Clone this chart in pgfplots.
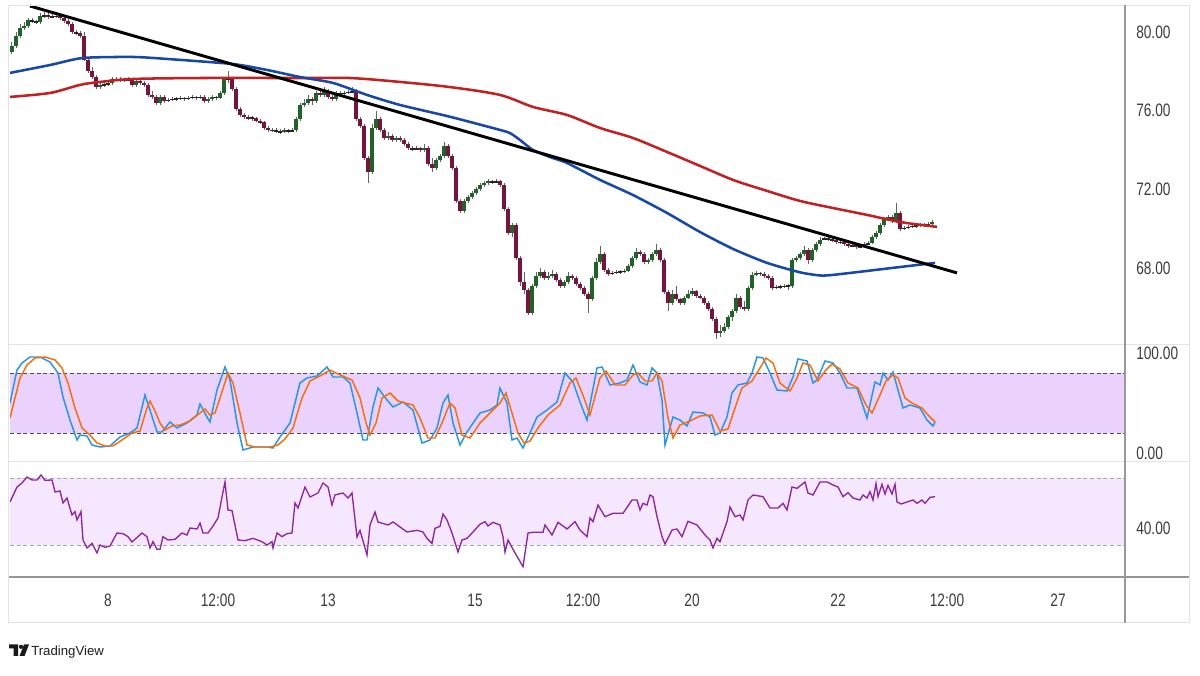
\documentclass[border=0pt]{standalone}
\usepackage{pgfplots}
\pgfplotsset{compat=1.18}
\usepackage{pgfplotstable}
\usepackage{fontspec}
\setmainfont{Liberation Sans}[FakeStretch=0.76]
\newfontfamily\tvfont{Liberation Sans}

\definecolor{upc}{RGB}{30,100,38}
\definecolor{dnc}{RGB}{122,18,62}
\definecolor{wickc}{RGB}{100,100,100}
\definecolor{redma}{RGB}{196,32,34}
\definecolor{bluema}{RGB}{22,72,170}
\definecolor{kcol}{RGB}{33,150,243}
\definecolor{dcol}{RGB}{255,109,0}
\definecolor{rsicol}{RGB}{142,36,170}
\definecolor{stband}{RGB}{234,210,252}
\definecolor{rsiband}{RGB}{245,231,253}
\definecolor{lightsep}{RGB}{224,227,235}
\definecolor{darksep}{RGB}{150,150,150}
\definecolor{labelgray}{RGB}{60,60,60}

\pgfplotstableread{
x o h l c
12 79.0 79.5 78.9 79.3
16 79.3 80.0 79.2 79.8
20 79.8 80.4 79.7 80.2
24 80.2 80.5 80.1 80.3
28 80.3 80.7 80.2 80.6
32 80.6 80.7 80.45 80.55
36 80.55 80.6 80.4 80.5
40 80.5 80.95 80.4 80.8
44 80.8 81.0 80.7 80.85
48 80.85 80.95 80.65 80.75
52 80.75 80.9 80.7 80.8
56 80.8 80.9 80.7 80.8
60 80.8 80.85 80.6 80.7
64 80.7 80.8 80.45 80.55
68 80.55 80.65 80.3 80.4
72 80.4 80.5 79.9 80.0
76 80.0 80.1 79.85 79.95
80 79.95 80.05 79.7 79.8
84 79.8 80.0 78.5 78.6
88 78.6 78.7 77.9 78.0
92 78.0 78.2 77.6 77.7
96 77.7 77.8 77.1 77.2
100 77.2 77.45 77.1 77.3
104 77.3 77.45 77.2 77.35
108 77.35 77.5 77.25 77.4
112 77.4 77.7 77.3 77.6
116 77.6 77.7 77.5 77.6
120 77.6 77.7 77.45 77.55
124 77.55 77.65 77.45 77.55
128 77.55 77.7 77.5 77.6
132 77.6 77.65 77.2 77.3
136 77.3 77.6 77.2 77.5
140 77.5 77.6 77.3 77.4
144 77.4 77.5 77.2 77.3
148 77.3 77.4 76.7 76.8
152 76.8 77.0 76.6 76.7
156 76.7 76.8 76.3 76.4
160 76.4 76.8 76.3 76.7
164 76.7 76.8 76.4 76.5
168 76.5 76.65 76.45 76.55
172 76.55 76.7 76.5 76.6
176 76.6 76.7 76.5 76.6
180 76.6 76.75 76.55 76.65
184 76.65 76.7 76.5 76.6
188 76.6 76.75 76.55 76.65
192 76.65 76.8 76.6 76.7
196 76.7 76.75 76.55 76.65
200 76.65 76.8 76.6 76.7
204 76.7 76.8 76.4 76.5
208 76.5 76.7 76.4 76.6
212 76.6 76.8 76.5 76.7
216 76.7 76.75 76.55 76.65
220 76.65 77.0 76.6 76.9
224 76.9 77.7 76.8 77.6
228 77.6 78.0 77.4 77.6
232 77.6 77.7 77.0 77.1
236 77.1 77.2 76.0 76.1
240 76.1 76.2 75.7 75.8
244 75.8 75.9 75.6 75.7
248 75.7 75.8 75.5 75.6
252 75.6 75.75 75.5 75.65
256 75.65 75.7 75.4 75.5
260 75.5 75.6 75.3 75.4
264 75.4 75.5 75.0 75.1
268 75.1 75.2 74.9 75.0
272 75.0 75.1 74.9 75.0
276 75.0 75.1 74.85 74.95
280 74.95 75.05 74.8 74.9
284 74.9 75.1 74.85 75.0
288 75.0 75.05 74.85 74.95
292 74.95 75.1 74.9 75.0
296 75.0 75.7 74.9 75.6
300 75.6 76.4 75.5 76.3
304 76.3 76.6 76.2 76.4
308 76.4 76.8 76.3 76.6
312 76.6 76.7 76.3 76.5
316 76.5 77.0 76.4 76.9
320 76.9 77.0 76.7 76.8
324 76.8 77.2 76.7 77.0
328 77.0 77.1 76.6 76.7
332 76.7 76.8 76.5 76.6
336 76.6 77.0 76.5 76.9
340 76.9 77.0 76.75 76.85
344 76.85 77.0 76.8 76.9
348 76.9 77.05 76.85 76.95
352 76.95 77.2 76.9 77.0
356 77.0 77.1 75.5 75.6
360 75.6 75.7 75.1 75.2
364 75.2 75.3 73.5 73.6
368 73.6 73.7 72.3 72.9
372 72.9 75.3 72.8 75.1
376 75.1 76.0 75.0 75.6
380 75.6 75.7 74.9 75.0
384 75.0 75.1 74.5 74.6
388 74.6 74.9 74.5 74.7
392 74.7 74.8 74.4 74.5
396 74.5 74.7 74.4 74.6
400 74.6 74.7 74.4 74.5
404 74.5 74.6 74.2 74.3
408 74.3 74.4 74.0 74.1
412 74.1 74.2 73.95 74.05
416 74.05 74.2 74.0 74.1
420 74.1 74.15 73.9 74.0
424 74.0 74.3 73.9 74.1
428 74.1 74.2 73.2 73.3
432 73.3 73.6 72.9 73.1
436 73.1 73.6 73.0 73.5
440 73.5 73.8 73.4 73.7
444 73.7 74.4 73.6 74.2
448 74.2 74.3 73.6 73.7
452 73.7 73.8 73.0 73.1
456 73.1 73.2 71.3 71.4
460 71.4 71.5 70.8 70.9
464 70.9 71.5 70.8 71.4
468 71.4 71.7 71.3 71.6
472 71.6 71.9 71.5 71.8
476 71.8 72.1 71.7 72.0
480 72.0 72.3 71.9 72.2
484 72.2 72.4 72.1 72.3
488 72.3 72.5 72.2 72.4
492 72.4 72.5 72.25 72.35
496 72.35 72.5 72.3 72.4
500 72.4 72.5 72.1 72.2
504 72.2 72.3 70.9 71.0
508 71.0 71.1 69.7 69.8
512 69.8 70.3 69.6 70.2
516 70.2 70.3 68.4 68.5
520 68.5 68.6 67.1 67.3
524 67.3 67.8 66.7 66.9
528 66.9 67.0 65.6 65.7
532 65.7 67.2 65.6 67.1
536 67.1 67.8 67.0 67.6
540 67.6 68.0 67.5 67.8
544 67.8 67.9 67.4 67.5
548 67.5 67.8 67.4 67.6
552 67.6 67.9 67.5 67.7
556 67.7 67.8 67.3 67.4
560 67.4 67.5 67.0 67.1
564 67.1 67.4 67.0 67.3
568 67.3 67.8 67.2 67.6
572 67.6 67.7 67.4 67.5
576 67.5 67.6 67.1 67.2
580 67.2 67.3 66.9 67.0
584 67.0 67.1 66.6 66.7
588 66.7 66.8 65.7 66.4
592 66.4 67.6 66.3 67.5
596 67.5 68.5 67.4 68.3
600 68.3 69.1 68.2 68.7
604 68.7 68.8 67.8 67.9
608 67.9 68.0 67.6 67.7
612 67.7 67.85 67.65 67.75
616 67.75 67.9 67.7 67.8
620 67.8 67.9 67.7 67.8
624 67.8 67.95 67.75 67.85
628 67.85 68.2 67.8 68.1
632 68.1 68.6 68.0 68.5
636 68.5 69.0 68.4 68.8
640 68.8 68.9 68.6 68.7
644 68.7 68.8 68.2 68.3
648 68.3 68.5 68.2 68.4
652 68.4 68.8 68.3 68.7
656 68.7 69.2 68.6 68.9
660 68.9 69.0 68.3 68.4
664 68.4 68.5 66.7 66.8
668 66.8 66.9 65.8 66.2
672 66.2 66.9 66.1 66.7
676 66.7 67.1 66.3 66.4
680 66.4 66.5 66.1 66.2
684 66.2 66.6 66.1 66.5
688 66.5 66.9 66.4 66.7
692 66.7 67.0 66.6 66.85
696 66.85 66.9 66.5 66.6
700 66.6 66.7 66.4 66.5
704 66.5 66.6 66.1 66.2
708 66.2 66.3 65.8 65.9
712 65.9 66.0 65.3 65.4
716 65.4 65.5 64.4 64.7
720 64.7 65.1 64.5 64.8
724 64.8 65.2 64.7 65.0
728 65.0 65.6 64.9 65.5
732 65.5 65.9 65.3 65.8
736 65.8 66.7 65.7 66.5
740 66.5 66.6 65.9 66.0
744 66.0 66.3 65.8 65.9
748 65.9 67.1 65.8 67.0
752 67.0 67.8 66.9 67.65
756 67.65 67.85 67.6 67.75
760 67.75 67.8 67.6 67.7
764 67.7 67.8 67.5 67.6
768 67.6 67.7 67.4 67.5
772 67.5 67.6 66.9 67.0
776 67.0 67.15 66.95 67.05
780 67.05 67.15 66.95 67.05
784 67.05 67.2 67.0 67.1
788 67.1 67.2 66.9 67.1
792 67.1 68.5 67.0 68.4
796 68.4 68.6 68.3 68.5
800 68.5 68.8 68.4 68.7
804 68.7 69.1 68.6 68.9
808 68.9 69.0 68.2 68.4
812 68.4 69.0 68.3 68.9
816 68.9 69.3 68.8 69.2
820 69.2 69.6 69.1 69.45
824 69.45 69.6 69.4 69.5
828 69.5 69.6 69.35 69.45
832 69.45 69.55 69.3 69.4
836 69.4 69.5 69.2 69.3
840 69.3 69.4 69.2 69.3
844 69.3 69.35 69.1 69.2
848 69.2 69.3 69.0 69.1
852 69.1 69.25 69.05 69.15
856 69.15 69.2 68.95 69.05
860 69.05 69.2 69.0 69.1
864 69.1 69.3 69.05 69.2
868 69.2 69.35 69.15 69.25
872 69.25 69.7 69.2 69.6
876 69.6 69.9 69.5 69.8
880 69.8 70.3 69.7 70.2
884 70.2 70.6 70.1 70.5
888 70.5 70.7 70.4 70.6
892 70.6 70.7 70.3 70.4
896 70.4 71.3 70.3 70.8
900 70.8 70.9 69.9 70.0
904 70.0 70.15 69.95 70.05
908 70.05 70.2 70.0 70.1
912 70.1 70.25 70.05 70.15
916 70.15 70.25 70.05 70.15
920 70.15 70.3 70.1 70.2
924 70.2 70.3 70.1 70.2
928 70.2 70.35 70.15 70.25
932 70.25 70.45 70.2 70.35
}\candles

\pgfplotsset{
  panel/.style={
    scale only axis, width=836.25pt, xmin=10, xmax=1125,
    anchor=south west,
    axis line style={draw=none}, major tick length=0pt, minor tick num=0,
    xtick=\empty, ytick pos=right, yticklabel pos=right,
    yticklabel style={anchor=west, inner sep=0pt, xshift=8.25pt,
      font=\fontsize{13.5pt}{15pt}\selectfont, text=labelgray,
      /pgf/number format/.cd, fixed, fixed zerofill, precision=2, assume math mode=true},
  },
  candlebar/.style={draw=none, mark=none, forget plot,
    error bars/.cd, y dir=both, y explicit, error mark=none,
    error bar style={line cap=butt, solid, #1}},
}

\begin{document}
\begin{tikzpicture}
\fill[white] (0,0) rectangle (900pt,506.25pt);
\path[use as bounding box] (0,0) rectangle (900pt,506.25pt);

% ---------------- main price pane ----------------
\begin{axis}[panel, at={(7.5pt,247.5pt)}, height=255pt,
  ymin=64.085, ymax=81.373, ytick={68,72,76,80}]
  % wicks
  \addplot[candlebar={line width=0.75pt, draw=wickc}]
    table[x=x, y expr={(\thisrow{h}+\thisrow{l})/2}, y error expr={(\thisrow{h}-\thisrow{l})/2}] {\candles};
  % near-flat candles drawn as dark dashes
  \addplot[restrict expr to domain={abs(\thisrow{c}-\thisrow{o})}{0:0.0799},
    candlebar={line width=2.5pt, draw=black!85}]
    table[x=x, y expr={(\thisrow{o}+\thisrow{c})/2}, y error expr={0.035}] {\candles};
  % up bodies
  \addplot[restrict expr to domain={\thisrow{c}-\thisrow{o}}{0.08:1000},
    candlebar={line width=2.5pt, draw=upc}]
    table[x=x, y expr={(\thisrow{o}+\thisrow{c})/2}, y error expr={abs(\thisrow{c}-\thisrow{o})/2}] {\candles};
  % down bodies
  \addplot[restrict expr to domain={\thisrow{o}-\thisrow{c}}{0.08:1000},
    candlebar={line width=2.5pt, draw=dnc}]
    table[x=x, y expr={(\thisrow{o}+\thisrow{c})/2}, y error expr={abs(\thisrow{c}-\thisrow{o})/2}] {\candles};
  % moving averages
  \addplot[redma, line width=1.9pt, smooth, tension=0.5, mark=none] coordinates {
    (10,76.70)(50,76.90)(80,77.31)(100,77.46)(133,77.61)(200,77.66)(300,77.66)(350,77.66)
    (400,77.46)(450,77.20)(500,76.80)(533,76.19)(567,75.78)(600,75.12)(633,74.61)(667,73.90)
    (700,73.19)(733,72.48)(767,71.92)(800,71.41)(833,71.05)(867,70.70)(900,70.34)(937,70.09)};
  \addplot[bluema, line width=1.9pt, smooth, tension=0.4, mark=none] coordinates {
    (10,77.92)(50,78.32)(83,78.68)(133,78.73)(167,78.63)(233,78.37)(267,78.07)(300,77.71)
    (333,77.41)(367,76.80)(400,76.29)(450,75.69)(500,75.02)(510,74.86)(520,74.51)(533,74.0)
    (550,73.64)(567,73.34)(600,72.48)(633,71.71)(667,70.80)(700,69.83)(733,68.97)(767,68.26)
    (800,67.78)(820,67.62)(833,67.65)(867,67.85)(900,68.05)(935,68.26)};
  % trend line
  \addplot[black, line width=2.2pt, mark=none] coordinates {(30,81.32)(957,67.75)};
\end{axis}

% ---------------- stochastic pane ----------------
\begin{axis}[panel, at={(7.5pt,159.75pt)}, height=87.75pt,
  ymin=-9, ymax=108, ytick={0,100}]
  \addplot[fill=stband, draw=none, forget plot] coordinates {(10,20)(1125,20)(1125,80)(10,80)} -- cycle;
  \addplot[black!70, line width=0.7pt, dash pattern=on 3pt off 2pt, mark=none] coordinates {(10,80)(1125,80)};
  \addplot[black!70, line width=0.7pt, dash pattern=on 3pt off 2pt, mark=none] coordinates {(10,20)(1125,20)};
  \addplot[kcol, line width=1.1pt, mark=none] coordinates {
    (10,50)(17,83)(22,90)(30,96)(40,96)(50,91)(58,80)(63,56)(70,33)(77,13)(80,18)(87,17)(92,8)
    (100,6)(110,7)(120,16)(130,20)(137,25)(145,58)(150,43)(157,21)(162,21)(170,31)(177,25)
    (187,30)(197,38)(200,49)(207,36)(210,31)(217,63)(225,86)(230,73)(237,30)(243,3)(253,6)
    (267,6)(273,5)(280,16)(290,30)(300,70)(307,75)(317,77)(327,86)(333,76)(343,76)(350,70)
    (357,40)(363,13)(367,13)(373,46)(378,65)(387,53)(393,46)(403,51)(413,43)(422,10)(430,13)
    (437,25)(443,50)(448,58)(453,30)(460,8)(467,21)(480,40)(490,43)(497,48)(500,65)(507,50)
    (512,13)(517,15)(523,5)(530,20)(537,36)(547,43)(557,51)(565,80)(573,71)(580,51)(587,33)
    (597,85)(602,86)(610,68)(620,70)(627,73)(633,88)(640,71)(647,68)(652,85)(657,80)(662,53)
    (665,8)(673,36)(680,33)(687,27)(693,41)(703,40)(710,36)(715,18)(720,20)(727,36)(732,60)
    (738,68)(747,70)(752,80)(757,96)(763,95)(770,80)(777,63)(787,62)(793,76)(798,94)(807,92)
    (813,70)(817,73)(825,92)(833,90)(840,80)(847,65)(857,65)(867,35)(875,71)(880,68)(883,80)
    (888,73)(893,81)(903,45)(910,48)(920,45)(927,33)(933,27)(935,31)};
  \addplot[dcol, line width=1.1pt, mark=none] coordinates {
    (10,35)(15,55)(20,75)(27,88)(35,95)(45,96)(55,93)(62,85)(68,70)(75,45)(82,25)(90,18)
    (97,10)(105,7)(113,7)(122,13)(132,20)(140,22)(147,45)(150,52)(155,42)(160,30)(165,23)
    (172,27)(180,28)(190,32)(200,40)(205,44)(210,38)(215,40)(220,55)(228,80)(233,70)(240,40)
    (247,8)(255,6)(270,6)(278,8)(285,14)(293,25)(302,55)(310,72)(320,77)(330,83)(336,80)
    (345,76)(352,73)(360,55)(366,30)(370,18)(376,30)(382,55)(390,60)(398,52)(405,50)(413,48)
    (420,35)(428,15)(435,15)(442,30)(450,50)(455,45)(462,18)(470,15)(480,30)(490,40)(500,50)
    (506,60)(512,40)(518,20)(524,10)(530,12)(538,25)(548,38)(560,48)(570,70)(576,75)(584,55)
    (590,38)(600,75)(606,82)(615,68)(625,68)(633,78)(638,80)(645,72)(652,72)(657,80)(662,72)
    (668,35)(673,15)(680,28)(690,32)(700,37)(712,38)(720,22)(728,24)(735,45)(742,65)(752,72)
    (760,85)(766,95)(773,90)(780,70)(790,62)(797,75)(803,90)(810,88)(818,72)(825,82)(832,89)
    (840,84)(848,70)(858,65)(866,48)(872,40)(880,58)(886,72)(893,78)(898,75)(905,55)(912,50)
    (922,45)(928,38)(935,31)};
\end{axis}

% ---------------- RSI pane ----------------
\begin{axis}[panel, at={(7.5pt,73.5pt)}, height=86.25pt,
  ymin=10.8, ymax=79.8, ytick={40},
  xtick={108,218,328,475,583,692,838,947,1058},
  xticklabels={8,12:00,13,15,12:00,20,22,12:00,27},
  xticklabel style={anchor=base, yshift=-22.5pt,
    font=\fontsize{13.5pt}{15pt}\selectfont, text=labelgray}]
  \addplot[fill=rsiband, draw=none, forget plot] coordinates {(10,30)(1125,30)(1125,70)(10,70)} -- cycle;
  \addplot[black!35, line width=0.7pt, dash pattern=on 3pt off 2pt, mark=none] coordinates {(10,70)(1125,70)};
  \addplot[black!35, line width=0.7pt, dash pattern=on 3pt off 2pt, mark=none] coordinates {(10,30)(1125,30)};
  \addplot[rsicol, line width=1.0pt, mark=none] coordinates {
    (10,55.8)(17,64.8)(22,67.2)(27,70.8)(32,69)(37,69)(41,72)(45,68.8)(52,69)(55,61.8)(60,62.4)
    (63,55.2)(67,58.2)(72,48)(75,50)(77,45)(81,50)(83,33)(87,28.2)(92,31)(97,25.2)(100,30)
    (105,28.6)(110,29.4)(117,37.2)(123,36.8)(128,35)(132,31.8)(142,37.2)(147,35)(150,28.2)
    (153,32)(157,27.4)(160,27.4)(163,35)(168,33)(175,33.4)(182,37.2)(187,36)(190,40.2)
    (197,39.6)(200,43.2)(203,37.2)(208,37.2)(213,41.4)(218,46.2)(222,58.8)(225,67.8)(228,51)
    (232,50.6)(238,33)(245,32.6)(253,34)(262,32)(267,30)(272,32)(273,28.2)(277,37.2)(282,35)
    (287,36.8)(292,37.2)(295,55.2)(298,52.2)(305,64.8)(310,58.8)(318,61.2)(323,67.2)(328,64.8)
    (332,54)(335,60)(343,61.2)(348,58.2)(352,61.2)(357,34.8)(360,38.8)(367,24)(370,42)
    (375,49.8)(378,43.8)(388,42)(393,43.8)(407,37.8)(417,38.8)(423,37.8)(427,34)(432,31)
    (435,40)(440,41.2)(443,48.6)(447,45)(452,37.2)(458,25.8)(462,33)(467,34)(473,37.8)
    (480,42.5)(485,44)(488,41.4)(493,43.6)(500,42)(503,35)(505,25.8)(508,33)(513,27.4)
    (518,22.2)(523,17)(528,37.2)(533,37.6)(543,37.6)(545,42)(552,36)(558,43.6)(567,39.6)
    (575,44)(580,39)(587,35)(590,46.2)(593,44)(598,54)(605,47)(613,49)(623,49)(632,57)
    (637,57)(640,51)(643,55)(647,54)(650,60)(653,59)(657,47)(662,35)(665,30.6)(672,39)
    (677,39.6)(682,35)(688,44.2)(697,42)(705,36)(710,33)(713,28.2)(717,34)(720,32)(727,44)
    (730,52.8)(735,47)(740,48)(743,45)(748,57)(753,60)(763,59)(770,52.2)(778,52.2)(783,55)
    (787,51)(792,64.8)(797,64)(805,67.8)(808,61.2)(813,60)(820,67.8)(827,67.8)(833,66)
    (838,64.8)(843,59)(848,61.4)(853,58.2)(860,57)(863,60)(867,58.2)(870,62)(873,57)
    (876,66.8)(878,59)(882,66.4)(885,60.6)(888,65.8)(892,60.6)(895,66.4)(897,55.8)(901,54.6)
    (907,55.8)(913,57)(917,55)(922,57)(925,55)(930,58.6)(935,59)};
\end{axis}

% ---------------- frame, separators, logo ----------------
\begin{scope}[x=0.75pt, y=-0.75pt, yshift=506.25pt]
  \draw[lightsep, line width=0.75pt] (8.5,5.5) rectangle (1189.5,622.5);
  \draw[lightsep, line width=0.75pt] (9,345) -- (1189,345);
  \draw[lightsep, line width=0.75pt] (9,462) -- (1189,462);
  \draw[darksep, line width=1.1pt] (9,577) -- (1189,577);
  \draw[black!40, line width=0.8pt] (1125,5) -- (1125,623);
  % TradingView logo
  \fill[black!90] (9,644.5) -- (18,644.5) -- (18,656) -- (13.5,656) -- (13.5,648.5) -- (9,648.5) -- cycle;
  \fill[black!90] (21,646.8) circle (2.1);
  \fill[black!90] (24,644.5) -- (29,644.5) -- (24.5,656) -- (19.5,656) -- cycle;
  \node[anchor=base west, inner sep=0pt, text=black!88] at (31,655.5)
    {\tvfont\fontsize{9.9pt}{11pt}\selectfont TradingView};
\end{scope}
\end{tikzpicture}
\end{document}
